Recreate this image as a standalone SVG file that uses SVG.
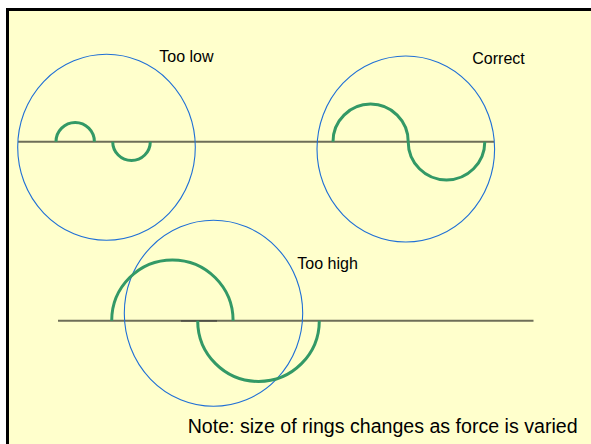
<svg xmlns="http://www.w3.org/2000/svg" width="591" height="444" viewBox="0 0 591 444">
  <style>
    .ring { fill: none; stroke: #1f6fd6; stroke-width: 1.1; }
    .arc { fill: none; stroke: #339966; stroke-width: 3; }
    .base { stroke: #6e6e58; stroke-width: 2; fill: none; }
    .lbl { font-family: "Liberation Sans", Arial, sans-serif; font-size: 16px; fill: #000; }
    .note { font-family: "Liberation Sans", Arial, sans-serif; font-size: 19.6px; fill: #000; }
  </style>
  <rect x="0" y="0" width="591" height="444" fill="#ffffff"/>
  <rect x="7.5" y="9.5" width="600" height="450" fill="#ffffcc" stroke="#000" stroke-width="3"/>
  <g id="connectors">
    <line class="base" x1="18" y1="141.7" x2="494" y2="141.7"/>
    <line class="base" x1="58" y1="320.7" x2="533.5" y2="320.7"/>
    <line x1="181" y1="321" x2="217" y2="321" stroke="#333" stroke-width="1.2"/>
  </g>
  <g id="too-low">
    <ellipse class="ring" cx="106.5" cy="147.3" rx="88.8" ry="93"/>
    <path class="arc" d="M56,141.7 A19.2,19.2 0 0 1 94.4,141.7"/>
    <path class="arc" d="M112.7,141.7 A18.8,18.8 0 0 0 150.3,141.7"/>
    <text class="lbl" x="159.3" y="62">Too low</text>
  </g>
  <g id="correct">
    <ellipse class="ring" cx="405.8" cy="149" rx="88.8" ry="93"/>
    <path class="arc" d="M333,141.7 A37.6,37.6 0 0 1 408.2,141.7"/>
    <path class="arc" d="M408.2,141.7 A38.3,38.3 0 0 0 484.8,141.7"/>
    <text class="lbl" x="472.3" y="64">Correct</text>
  </g>
  <g id="too-high">
    <ellipse class="ring" cx="213.5" cy="313.3" rx="89.2" ry="93"/>
    <path class="arc" d="M111.7,320.7 A60.7,60.7 0 0 1 233.1,320.7"/>
    <path class="arc" d="M197.7,320.7 A60.8,60.8 0 0 0 319.3,320.7"/>
    <text class="lbl" x="297.3" y="269">Too high</text>
  </g>
  <g id="note">
    <text class="note" x="187.7" y="433.3">Note: size of rings changes as force is varied</text>
  </g>
</svg>
